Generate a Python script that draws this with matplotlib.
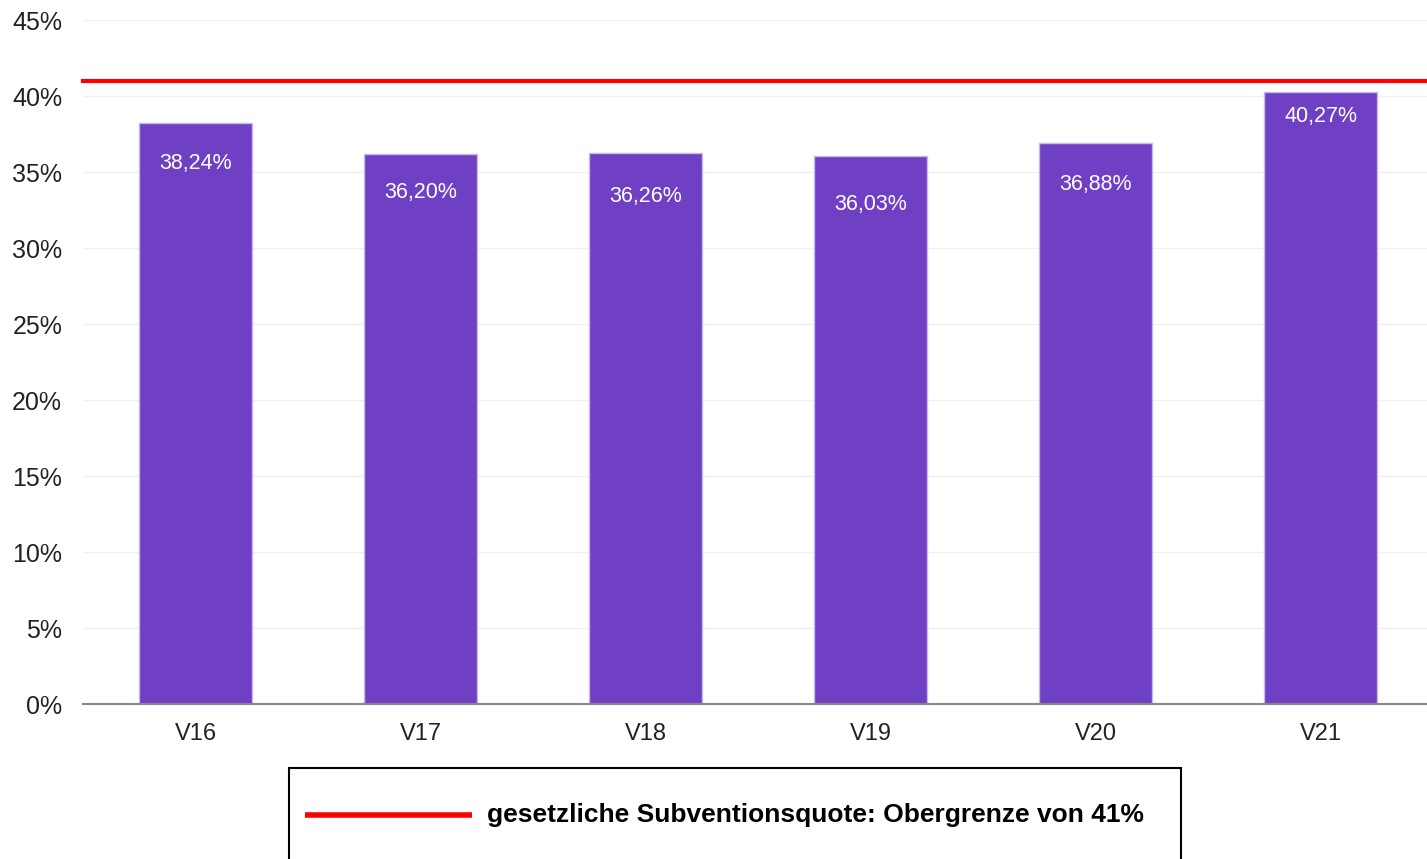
import matplotlib.pyplot as plt
from matplotlib.patches import Rectangle
from matplotlib.lines import Line2D

# Daten
kategorien = ["V16", "V17", "V18", "V19", "V20", "V21"]
quoten = [38.24, 36.20, 36.26, 36.03, 36.88, 40.27]
label_texte = ["38,24%", "36,20%", "36,26%", "36,03%", "36,88%", "40,27%"]
# Höhe der Beschriftungen in den Balken (Prozent)
label_hoehen = [35.59, 33.68, 33.36, 32.89, 34.21, 38.62]
obergrenze = 41
y_ticks = [0, 5, 10, 15, 20, 25, 30, 35, 40, 45]
legenden_text = "gesetzliche Subventionsquote: Obergrenze von 41%"

plt.rcParams["font.family"] = ["Liberation Sans", "DejaVu Sans"]

W, H = 1427, 859
fig = plt.figure(figsize=(W / 100, H / 100), dpi=100)
ax = fig.add_axes([83 / W, (H - 704) / H, (1433 - 83) / W, 684 / H])

x = list(range(len(kategorien)))
ax.bar(x, quoten, width=0.5, color="#7040c4", edgecolor="#c9b9ea", linewidth=1, zorder=2)

for xi, txt, yh in zip(x, label_texte, label_hoehen):
    ax.text(xi, yh, txt, color="white", ha="center", va="center", fontsize=15.5, zorder=3)

ax.axhline(obergrenze, color="#ff0000", linewidth=3, zorder=4, clip_on=False)

ax.set_xlim(-0.5, 5.5)
ax.set_ylim(0, 45)
ax.set_yticks(y_ticks)
ax.set_yticklabels([f"{v}%" for v in y_ticks])
ax.set_xticks(x)
ax.set_xticklabels(kategorien)
ax.tick_params(axis="both", length=0, colors="#222222")
ax.tick_params(axis="y", pad=15, labelsize=18)
ax.tick_params(axis="x", pad=14, labelsize=17)
ax.grid(axis="y", color="#f0f0f0", linewidth=1, zorder=0)
ax.set_axisbelow(True)
for s in ["top", "right", "left"]:
    ax.spines[s].set_visible(False)
ax.spines["bottom"].set_color("#888888")
ax.spines["bottom"].set_linewidth(1.5)
ax.spines["bottom"].set_zorder(5)

# Legende
fig.patches.append(Rectangle((289 / W, -0.02), (1181 - 289) / W, (H - 768) / H + 0.02,
                             transform=fig.transFigure, facecolor="white",
                             edgecolor="black", linewidth=1.5))
fig.lines.append(Line2D([305 / W, 472 / W], [(H - 815) / H] * 2, transform=fig.transFigure,
                        color="#ff0000", linewidth=4, solid_capstyle="butt"))
fig.text(487 / W, (H - 815) / H, legenden_text, fontsize=19, fontweight="bold",
         ha="left", va="center")

fig.savefig("out.png", dpi=100)
